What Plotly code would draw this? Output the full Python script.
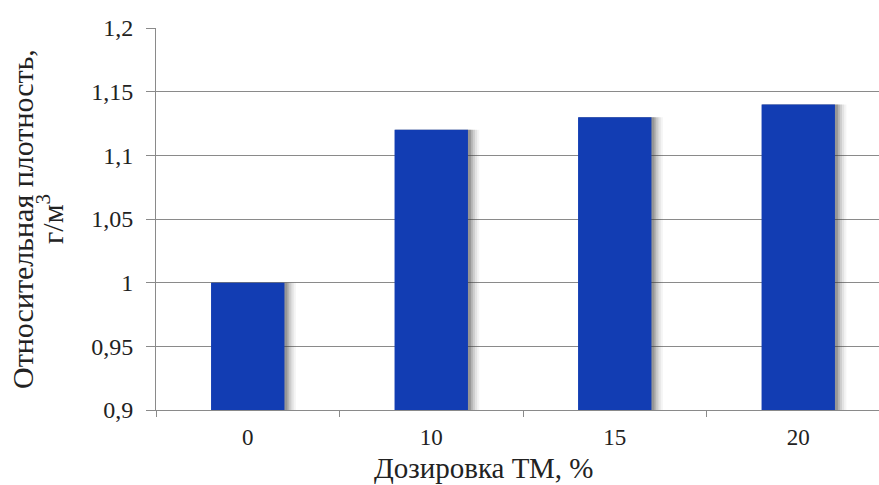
import plotly.graph_objects as go

# Dosage of TM (%) and relative density
dosage = ["0", "10", "15", "20"]
density = [1.00, 1.12, 1.13, 1.14]

y_tickvals = [0.9, 0.95, 1.0, 1.05, 1.1, 1.15, 1.2]
y_ticktext = ["0,9", "0,95", "1", "1,05", "1,1", "1,15", "1,2"]

y_title_line1 = "Относительная плотность,"
y_title_line2 = "г/м<sup>3</sup>"
x_title = "Дозировка ТМ, %"

BAR_COLOR = "#123db3"
SERIF = "'Times New Roman', 'Liberation Serif', serif"
BAR_W = 0.40

fig = go.Figure()

# soft drop shadow on the right side of each bar (layered translucent bars)
for extra, alpha in [(0.058, 0.06), (0.046, 0.09), (0.034, 0.13), (0.022, 0.18), (0.012, 0.24)]:
    fig.add_trace(go.Bar(
        x=dosage, y=density,
        width=BAR_W + extra, offset=-BAR_W / 2 + 0.004,
        marker=dict(color=f"rgba(60,60,60,{alpha})", line=dict(width=0)),
        hoverinfo="skip", showlegend=False,
    ))

fig.add_trace(go.Bar(
    x=dosage, y=density,
    width=BAR_W, offset=-BAR_W / 2,
    marker=dict(color=BAR_COLOR, line=dict(width=0)),
    showlegend=False,
))

fig.update_layout(
    width=879, height=485,
    margin=dict(l=156, r=0, t=28, b=75),
    paper_bgcolor="white", plot_bgcolor="white",
    barmode="overlay",
    font=dict(family=SERIF, color="#222222"),
    xaxis=dict(
        type="category",
        range=[-0.5, 3.44],
        showgrid=False,
        showline=True, linecolor="#8a8a8a", linewidth=1,
        ticks="outside", tickson="boundaries", ticklen=6,
        tickcolor="#8a8a8a", tickwidth=1,
        tickfont=dict(family=SERIF, size=23, color="#222222"),
        ticklabelstandoff=6,
    ),
    yaxis=dict(
        range=[0.9, 1.2],
        tickvals=y_tickvals, ticktext=y_ticktext,
        showgrid=True, gridcolor="#8a8a8a", gridwidth=1,
        showline=True, linecolor="#8a8a8a", linewidth=1,
        ticks="outside", ticklen=9, tickcolor="#8a8a8a", tickwidth=1,
        tickfont=dict(family=SERIF, size=24, color="#222222"),
        ticklabelstandoff=8,
        zeroline=False,
    ),
    annotations=[
        dict(text=y_title_line1, xref="paper", yref="paper",
             x=0, y=0.5, xshift=-134, textangle=-90,
             xanchor="center", yanchor="middle", showarrow=False,
             font=dict(family=SERIF, size=30, color="#222222")),
        dict(text=y_title_line2, xref="paper", yref="paper",
             x=0, y=0.5, xshift=-106, textangle=-90,
             xanchor="center", yanchor="middle", showarrow=False,
             font=dict(family=SERIF, size=30, color="#222222")),
        dict(text=x_title, xref="paper", yref="paper",
             x=(484 - 156) / 723, y=0, yshift=-58,
             xanchor="center", yanchor="middle", showarrow=False,
             font=dict(family=SERIF, size=29, color="#222222")),
    ],
)

fig.write_html("out.html")
